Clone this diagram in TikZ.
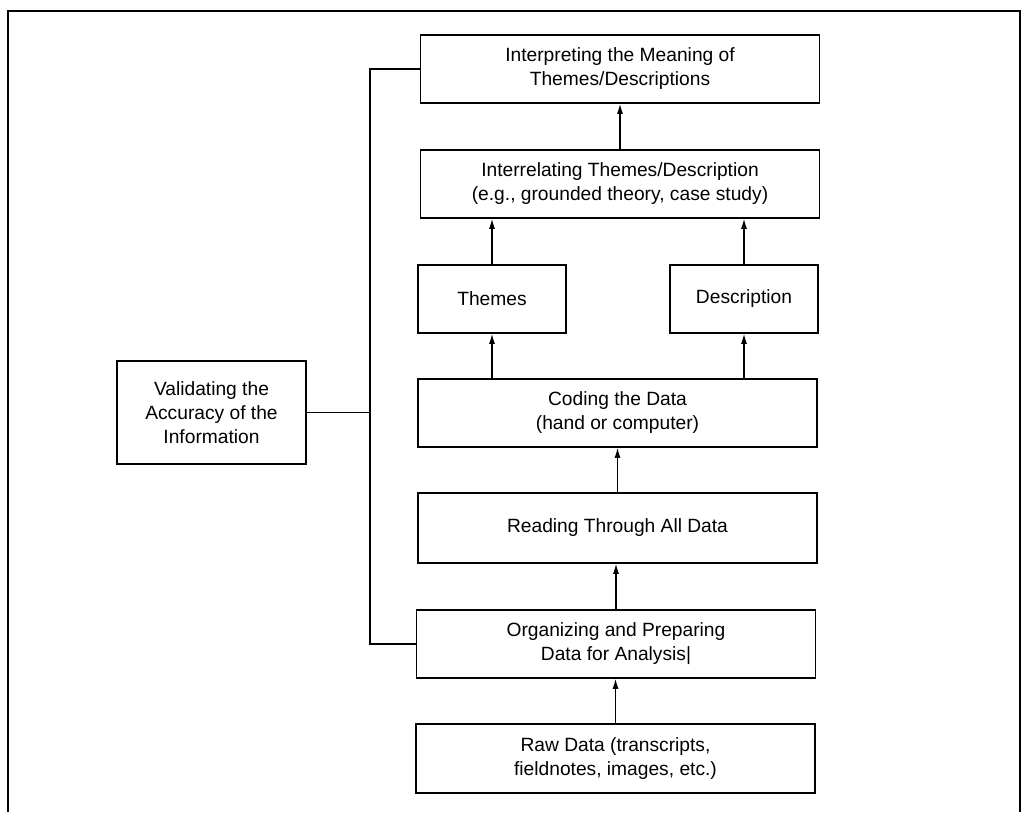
\documentclass[tikz,border=0pt]{standalone}
\usepackage{fontspec}
\setmainfont{Liberation Sans}
\usepackage{tikz}
\usetikzlibrary{arrows.meta, positioning, calc}
\tikzset{
	stage/.style={draw, line width=1.6pt, align=center, inner sep=0pt,
		minimum width=399pt, minimum height=68pt,
		font=\fontsize{19.2}{24}\selectfont},
	small/.style={stage, minimum width=148pt},
	line/.style={draw, line width=1.2pt, -{Latex[length=10pt,width=6pt]}},
	link/.style={draw, line width=1.2pt}
}
\begin{document}
\begin{tikzpicture}[x=1pt,y=-1pt]
			\useasboundingbox (0,0) rectangle (1028,812);
			% Frame
			\draw[line width=1.8pt] (8,812) -- (8,11) -- (1020,11) -- (1020,812);
			
			% Main column
			\node[stage] (interp) at (620,69) {Interpreting the Meaning of\\Themes/Descriptions};
			\node[stage] (interrel) at (620,184) {Interrelating Themes/Description\\(e.g., grounded theory, case study)};
			\node[small] (themes) at (492,299) {Themes};
			\node[small] (descr) at (744,299) {Description};
			\node[stage] (coding) at (617.5,413) {Coding the Data\\(hand or computer)};
			\node[stage, minimum height=70pt] (reading) at (617.5,528) {Reading Through All Data};
			\node[stage] (organ) at (616,644) {Organizing and Preparing\\Data for Analysis|};
			\node[stage, minimum height=69pt] (raw) at (615.5,758.5) {Raw Data (transcripts,\\fieldnotes, images, etc.)};
			
			% Validation
			\node[stage, minimum width=189pt, minimum height=103pt] (valid) at (211.5,412.5) {Validating the\\Accuracy of the\\Information};
			\coordinate (bus-top) at (370,69);
			\coordinate (bus-bot) at (370,644);
			
			% Connections
			\draw[line] (raw.north) -- (raw.north |- organ.south);
			\draw[line] (organ.north) -- (organ.north |- reading.south);
			\draw[line] (reading.north) -- (reading.north |- coding.south);
			\foreach \n in {themes,descr}
			\draw[line] (coding.north -| \n) -- (\n.south);
			\foreach \n in {themes,descr}
			\draw[line] (\n.north) -- (\n.north |- interrel.south);
			\draw[line] (interrel.north) -- (interp.south);
			\draw[link] (interp.west) -- (bus-top) -- (bus-bot) -- (organ.west);
			\draw[link] (valid.east) -- (valid.east -| bus-top);
		\end{tikzpicture}
\end{document}
